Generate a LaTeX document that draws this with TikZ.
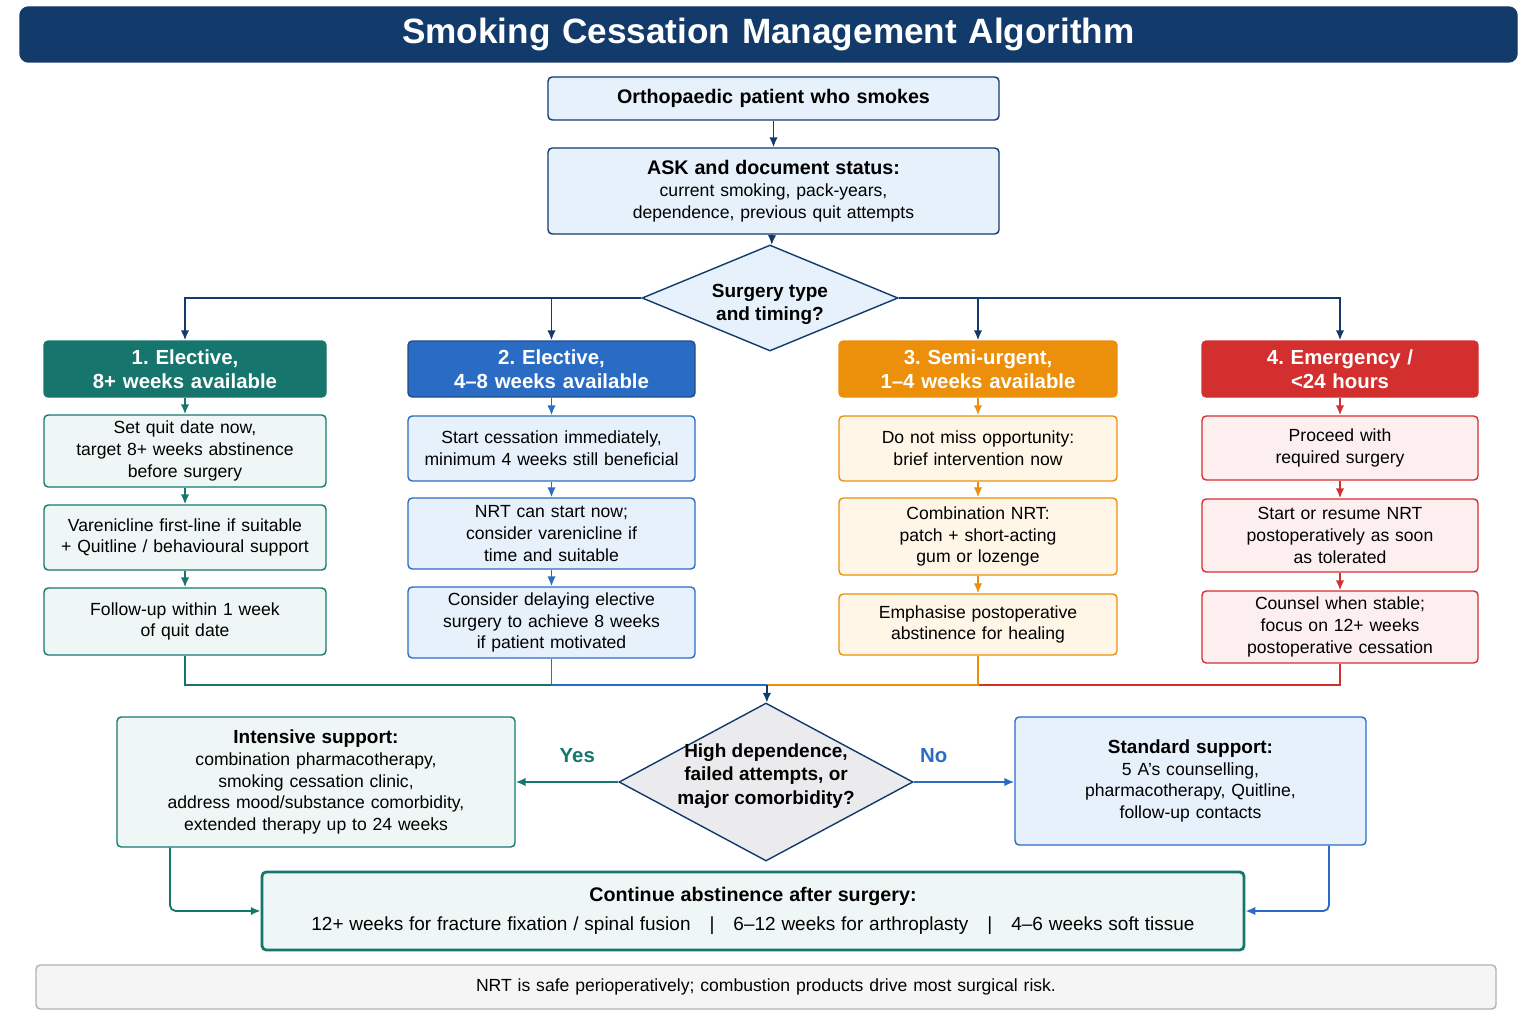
\documentclass[tikz,border=0pt]{standalone}
\usepackage{fontspec}
\setmainfont{Liberation Sans}
\frenchspacing
\usetikzlibrary{arrows.meta, positioning, shapes.geometric, calc}
\definecolor{navy}{HTML}{123A6B}
\definecolor{teal1}{HTML}{16766E}
\definecolor{blue1}{HTML}{2A6CC4}
\definecolor{orange1}{HTML}{EC8F0A}
\definecolor{red1}{HTML}{D32F2F}
\definecolor{lblue}{HTML}{E6F1FB}
\definecolor{lteal}{HTML}{EEF7F5}
\definecolor{lorange}{HTML}{FFF6E8}
\definecolor{lred}{HTML}{FDEFF0}
\definecolor{lgray}{HTML}{EBEBED}
\tikzset{
  box/.style={draw, rounded corners=3pt, line width=1pt, align=center, inner sep=2pt,
    font=\fontsize{12.5}{15.5}\selectfont},
  head/.style={box, text=white, font=\fontsize{14.5}{17}\selectfont\bfseries},
  decide/.style={diamond, draw=navy, line width=1pt, inner sep=0pt},
  dtext/.style={align=center, font=\fontsize{13.5}{16.5}\selectfont\bfseries},
  arr/.style={-{Latex[length=7pt,width=6pt]}, line width=1.3pt},
  lnk/.style={line width=1.3pt},
}
\newcommand{\pbox}[7]{% name, style, x1, y1, x2, y2, text
  \node[#2, minimum width=(#5-#3)*0.025cm, minimum height=(#6-#4)*0.025cm, text width=(#5-#3)*0.025cm-8pt]
    (#1) at ({(#3+#5)/2},{(#4+#6)/2}) {#7};}
\begin{document}
\begin{tikzpicture}[x=0.025cm, y=-0.025cm]
\useasboundingbox (0,0) rectangle (1536,1024);
% title
\pbox{title}{box, fill=navy, draw=navy, rounded corners=6pt, text=white, font=\fontsize{25}{28}\selectfont\bfseries}{20}{7}{1517}{62}{Smoking Cessation Management Algorithm}
% top
\pbox{start}{box, fill=lblue, draw=navy, font=\fontsize{14}{17}\selectfont\bfseries}{548}{77}{999}{120}{Orthopaedic patient who smokes}
\pbox{ask}{box, fill=lblue, draw=navy}{548}{148}{999}{234}{{\fontsize{14}{17}\selectfont\bfseries ASK and document status:}\\current smoking, pack-years,\\dependence, previous quit attempts}
\node[decide, fill=lblue, minimum width=256*0.025cm, minimum height=106*0.025cm] (type) at (770,298) {};
\node[dtext] at (770,304) {Surgery type\\and timing?};
\draw[arr, navy] (start) -- (ask);
\draw[arr, navy] (ask) -- (type);
% column headers
\pbox{h1}{head, fill=teal1, draw=teal1}{44}{341}{326}{397}{1. Elective,\\8+ weeks available}
\pbox{h2}{head, fill=blue1, draw=blue1!70!black}{408}{341}{695}{397}{2. Elective,\\4--8 weeks available}
\pbox{h3}{head, fill=orange1, draw=orange1}{839}{341}{1117}{397}{3. Semi-urgent,\\1--4 weeks available}
\pbox{h4}{head, fill=red1, draw=red1}{1202}{341}{1478}{397}{4. Emergency /\\<24 hours}
\draw[arr, navy] (type.west) -| (h1.north);
\draw[arr, navy] (type.west) -| (h2.north);
\draw[arr, navy] (type.east) -| (h3.north);
\draw[arr, navy] (type.east) -| (h4.north);
% column 1
\pbox{a1}{box, fill=lteal, draw=teal1}{44}{415}{326}{487}{Set quit date now,\\target 8+ weeks abstinence\\before surgery}
\pbox{a2}{box, fill=lteal, draw=teal1}{44}{505}{326}{570}{Varenicline first-line if suitable\\+ Quitline / behavioural support}
\pbox{a3}{box, fill=lteal, draw=teal1}{44}{588}{326}{655}{Follow-up within 1 week\\of quit date}
% column 2
\pbox{b1}{box, fill=lblue, draw=blue1}{408}{416}{695}{481}{Start cessation immediately,\\minimum 4 weeks still beneficial}
\pbox{b2}{box, fill=lblue, draw=blue1}{408}{498}{695}{569}{NRT can start now;\\consider varenicline if\\time and suitable}
\pbox{b3}{box, fill=lblue, draw=blue1}{408}{587}{695}{658}{Consider delaying elective\\surgery to achieve 8 weeks\\if patient motivated}
% column 3
\pbox{c1}{box, fill=lorange, draw=orange1}{839}{416}{1117}{481}{Do not miss opportunity:\\brief intervention now}
\pbox{c2}{box, fill=lorange, draw=orange1}{839}{498}{1117}{575}{Combination NRT:\\patch + short-acting\\gum or lozenge}
\pbox{c3}{box, fill=lorange, draw=orange1}{839}{594}{1117}{655}{Emphasise postoperative\\abstinence for healing}
% column 4
\pbox{d1}{box, fill=lred, draw=red1}{1202}{416}{1478}{480}{Proceed with\\required surgery}
\pbox{d2}{box, fill=lred, draw=red1}{1202}{499}{1478}{572}{Start or resume NRT\\postoperatively as soon\\as tolerated}
\pbox{d3}{box, fill=lred, draw=red1}{1202}{591}{1478}{663}{Counsel when stable;\\focus on 12+ weeks\\postoperative cessation}
\foreach \p/\q/\c in {h1/a1/teal1, a1/a2/teal1, a2/a3/teal1, h2/b1/blue1, b1/b2/blue1, b2/b3/blue1,
  h3/c1/orange1, c1/c2/orange1, c2/c3/orange1, h4/d1/red1, d1/d2/red1, d2/d3/red1}
  \draw[arr, \c] (\p) -- (\q);
% merge
\coordinate (m) at (767,685);
\draw[lnk, red1] (d3.south) |- (m);
\draw[lnk, orange1] (c3.south) |- (m);
\draw[lnk, teal1] (a3.south) |- (m);
\draw[lnk, blue1] (b3.south) |- (m);
\node[decide, fill=lgray, minimum width=294*0.025cm, minimum height=158*0.025cm] (dep) at (766,782) {};
\node[dtext] at (766,776) {High dependence,\\failed attempts, or\\major comorbidity?};
\draw[arr, navy] (m) -- (dep);
% outcomes
\pbox{intens}{box, fill=lteal, draw=teal1}{117}{717}{515}{847}{{\fontsize{13.5}{16.5}\selectfont\bfseries Intensive support:}\\combination pharmacotherapy,\\smoking cessation clinic,\\address mood/substance comorbidity,\\extended therapy up to 24 weeks}
\pbox{std}{box, fill=lblue, draw=blue1}{1015}{717}{1366}{845}{{\fontsize{13.5}{16.5}\selectfont\bfseries Standard support:}\\5 A's counselling,\\pharmacotherapy, Quitline,\\follow-up contacts}
\draw[arr, teal1] (dep.west) -- (intens.east |- dep.west) node[pos=0.4, above=10pt, text=teal1, font=\fontsize{14.5}{17}\selectfont\bfseries] (yes) {Yes};
\draw[arr, blue1] (dep.east) -- (std.west |- dep.east) node[pos=0.2, above=10pt, text=blue1, font=\fontsize{14.5}{17}\selectfont\bfseries] (no) {No};
% continue
\pbox{cont}{box, fill=lteal, draw=teal1, line width=2pt}{262}{872}{1244}{950}{{\fontsize{14}{17}\selectfont\bfseries Continue abstinence after surgery:}\\[5pt]{\fontsize{13.5}{16}\selectfont 12+ weeks for fracture fixation / spinal fusion\quad |\quad 6--12 weeks for arthroplasty\quad |\quad 4--6 weeks soft tissue}}
\draw[arr, teal1, rounded corners=4pt] (intens.south -| 170,0) |- (cont.west);
\draw[arr, blue1, rounded corners=4pt] (std.south -| 1329,0) |- (cont.east);
% footer
\pbox{foot}{box, fill=lgray!50, draw=gray!60}{36}{965}{1496}{1009}{NRT is safe perioperatively; combustion products drive most surgical risk.}
\end{tikzpicture}
\end{document}
